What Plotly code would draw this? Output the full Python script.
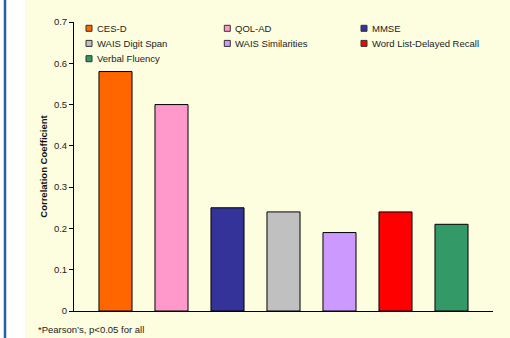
import plotly.graph_objects as go

# ---- data ----
series = ["CES-D", "QOL-AD", "MMSE", "WAIS Digit Span", "WAIS Similarities",
          "Word List-Delayed Recall", "Verbal Fluency"]
values = [0.58, 0.50, 0.25, 0.24, 0.19, 0.24, 0.21]
colors = ["#FF6600", "#FF99CC", "#333399", "#C0C0C0", "#CC99FF", "#FF0000", "#339966"]
y_title = "Correlation Coefficient"
footnote = "*Pearson\u2019s, p<0.05 for all"

W, H = 510, 338
L, R, T, B = 74, 17, 22, 27
pw, ph = W - L - R, H - T - B
BG = "#FDFDDF"
FONT = "Arial, Liberation Sans, sans-serif"


def px_x(px):
    return (px - L) / pw


def px_y(py):
    return (H - B - py) / ph


fig = go.Figure()
fig.add_trace(go.Bar(
    x=list(range(len(series))), y=values, width=0.59,
    marker=dict(color=colors, line=dict(color="black", width=1)),
    showlegend=False, hoverinfo="skip",
))

shapes = [
    # yellow panel
    dict(type="rect", xref="paper", yref="paper", x0=px_x(25), x1=px_x(W + 2),
         y0=px_y(H + 2), y1=px_y(-2), fillcolor=BG, line=dict(width=0), layer="below"),
    # blue left rule
    dict(type="line", xref="paper", yref="paper", x0=px_x(5), x1=px_x(5),
         y0=px_y(H + 2), y1=px_y(-2), line=dict(color="#1F62A8", width=2.5)),
]
annotations = []

# legend built from the series list (3 columns)
col_x = [86, 224.3, 361]
row_y = [28.3, 43.4, 58.7]
for i, (name, c) in enumerate(zip(series, colors)):
    cx = col_x[i % 3]
    cy = row_y[i // 3]
    shapes.append(dict(type="rect", xref="paper", yref="paper",
                       x0=px_x(cx), x1=px_x(cx + 6), y0=px_y(cy + 3), y1=px_y(cy - 3),
                       fillcolor=c, line=dict(color="#333333", width=1)))
    annotations.append(dict(text=name, xref="paper", yref="paper",
                            x=px_x(cx + 8.5), y=px_y(cy), xanchor="left", yanchor="middle",
                            showarrow=False, font=dict(family=FONT, size=9.5, color="#222222")))

annotations.append(dict(text=footnote, xref="paper", yref="paper",
                        x=px_x(36), y=px_y(329), xanchor="left", yanchor="middle",
                        showarrow=False, font=dict(family=FONT, size=9.5, color="#222222")))

fig.update_layout(
    width=W, height=H,
    margin=dict(l=L, r=R, t=T, b=B, autoexpand=False),
    paper_bgcolor="white", plot_bgcolor=BG,
    font=dict(family=FONT, size=9.5, color="#222222"),
    shapes=shapes, annotations=annotations,
    bargap=0.3,
    xaxis=dict(range=[-0.741, 6.741], showticklabels=False, showgrid=False,
               zeroline=False, showline=True, linecolor="black", linewidth=1,
               ticks="", fixedrange=True),
    yaxis=dict(range=[0, 0.7], dtick=0.1, tick0=0, showgrid=False, zeroline=False,
               showline=True, linecolor="black", linewidth=1,
               ticks="outside", ticklen=4, tickcolor="black", tickwidth=1,
               tickfont=dict(family=FONT, size=9.5, color="#222222"),
               title=dict(text="<b>" + y_title + "</b>", standoff=4,
                          font=dict(family=FONT, size=9.5, color="#111111")),
               fixedrange=True),
)

fig.write_html("out.html", config={"displayModeBar": False})
